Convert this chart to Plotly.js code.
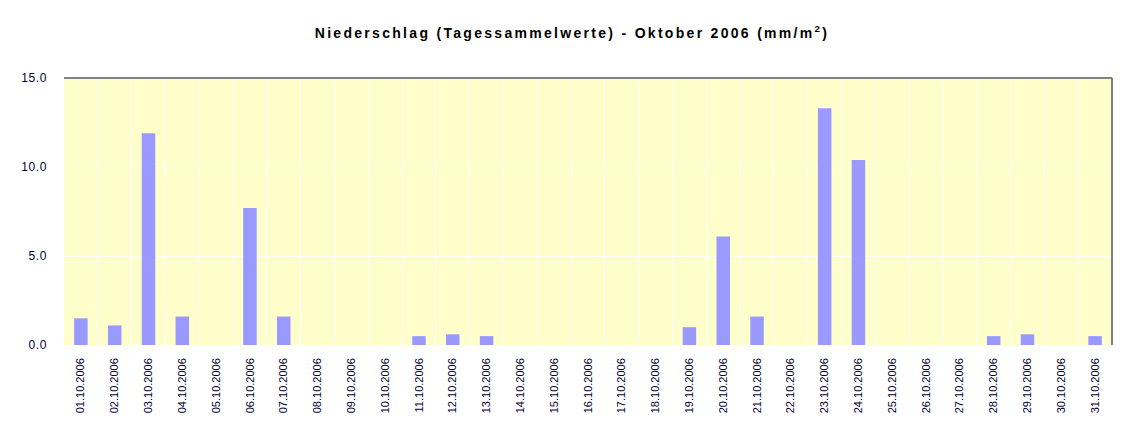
<!DOCTYPE html>
<html>
<head>
<meta charset="utf-8">
<script src="https://cdn.plot.ly/plotly-3.0.1.min.js"></script>
<style>
html,body{margin:0;padding:0;background:#fff;}
#chart{width:1144px;height:437px;}
#chart text.gtitle{letter-spacing:2.3px;}
#chart .ytick text{letter-spacing:0.6px;}
</style>
</head>
<body>
<div id="chart"></div>
<script>
const days = ["01.10.2006","02.10.2006","03.10.2006","04.10.2006","05.10.2006","06.10.2006","07.10.2006","08.10.2006","09.10.2006","10.10.2006","11.10.2006","12.10.2006","13.10.2006","14.10.2006","15.10.2006","16.10.2006","17.10.2006","18.10.2006","19.10.2006","20.10.2006","21.10.2006","22.10.2006","23.10.2006","24.10.2006","25.10.2006","26.10.2006","27.10.2006","28.10.2006","29.10.2006","30.10.2006","31.10.2006"];
const precipitation = [1.5,1.1,11.9,1.6,0,7.7,1.6,0,0,0,0.5,0.6,0.5,0,0,0,0,0,1.0,6.1,1.6,0,13.3,10.4,0,0,0,0.5,0.6,0,0.5];
const yTicks = [0,5,10,15];
const yTickText = ["0.0","5.0","10.0","15.0"];

const trace = {
  type: "bar",
  x: days,
  y: precipitation,
  marker: {color: "#9999FF", line: {width: 0}},
  hoverinfo: "x+y"
};

const layout = {
  width: 1144, height: 437,
  margin: {l: 64, r: 32, t: 78, b: 92, pad: 0},
  paper_bgcolor: "#FFFFFF",
  plot_bgcolor: "#FFFFCC",
  font: {family: "Liberation Sans, Arial, sans-serif", size: 11, color: "#000033"},
  title: {
    text: "<b>Niederschlag (Tagessammelwerte) - Oktober 2006 (mm/m<sup>2</sup>)</b>",
    font: {size: 14, color: "#000000"},
    x: 0.5, xref: "container", xanchor: "center",
    y: 1 - 33/437, yref: "container", yanchor: "middle"
  },
  bargap: 0.6,
  showlegend: false,
  xaxis: {
    type: "category",
    tickson: "boundaries",
    showgrid: true, gridcolor: "#FFFFFF", gridwidth: 1,
    ticks: "", tickangle: -90,
    ticklabelstandoff: 10,
    showline: false, zeroline: false,
    tickfont: {size: 11, color: "#000033"}
  },
  yaxis: {
    range: [0, 15],
    tickvals: yTicks, ticktext: yTickText,
    showgrid: true, gridcolor: "#FFFFFF", gridwidth: 1,
    zeroline: false, ticks: "",
    ticklabelstandoff: 16,
    showline: false,
    tickfont: {size: 12, color: "#000033"}
  },
  shapes: [
    {type: "line", xref: "paper", yref: "paper", x0: 0, x1: 1, y0: 1, y1: 1, line: {color: "#808080", width: 2}},
    {type: "line", xref: "paper", yref: "paper", x0: 1, x1: 1, y0: 0, y1: 1, line: {color: "#808080", width: 2}}
  ]
};

Plotly.newPlot("chart", [trace], layout, {displayModeBar: false, staticPlot: true});
</script>
</body>
</html>
